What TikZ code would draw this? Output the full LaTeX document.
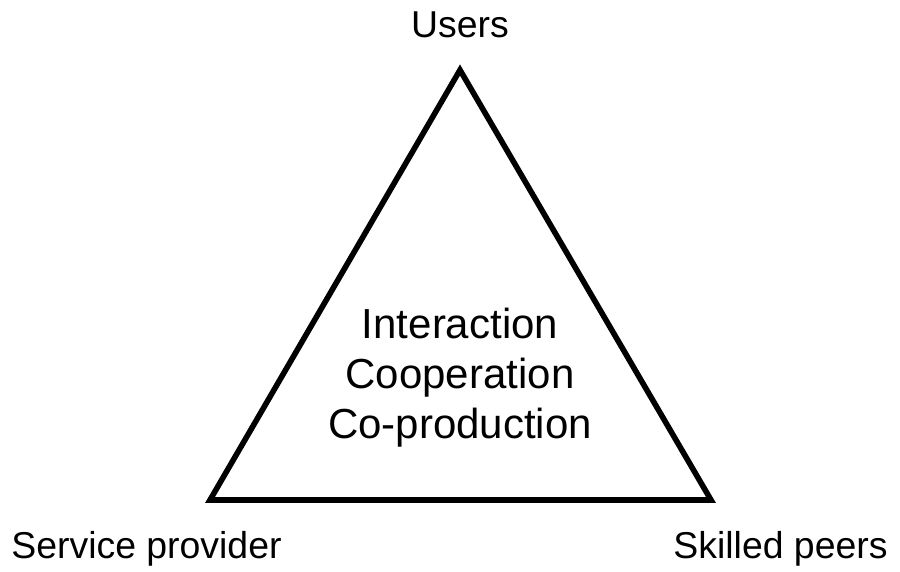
\documentclass[tikz,border=0pt]{standalone}
\usepackage{fontspec}
\setmainfont{Liberation Sans}
\usepackage{tikz}
\usetikzlibrary{positioning}

\begin{document}
\begin{tikzpicture}[x=0.5pt,y=-0.5pt,
    corner/.style={font=\fontsize{18.7}{22.4}\selectfont,inner sep=0pt},
    centre/.style={font=\fontsize{21}{25}\selectfont,align=center,inner sep=0pt}]
    \useasboundingbox (0,0) rectangle (900,572);

    % Corners of the triangle
    \coordinate (top) at (460,70);
    \coordinate (left) at (210,500);
    \coordinate (right) at (711,500);

    % Draw the triangle
    \draw[line width=2.8pt,line join=miter] (top) -- (left) -- (right) -- cycle;

    % Labels at the corners
    \node[corner,anchor=base] (users) at (460,38) {Users};
    \node[corner,anchor=base west] (provider) at (11,558) {Service provider};
    \node[corner,anchor=base east] (peers) at (888,558) {Skilled peers};

    % Text inside the triangle
    \node[centre] (inside) at (460,378) {Interaction\\Cooperation\\Co-production};
\end{tikzpicture}
\end{document}
